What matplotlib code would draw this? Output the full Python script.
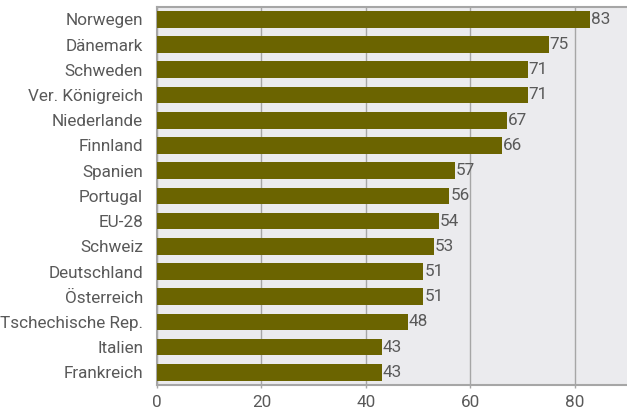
import matplotlib
matplotlib.use("Agg")
import matplotlib.pyplot as plt

countries = ["Norwegen", "Dänemark", "Schweden", "Ver. Königreich", "Niederlande",
             "Finnland", "Spanien", "Portugal", "EU-28", "Schweiz", "Deutschland",
             "Österreich", "Tschechische Rep.", "Italien", "Frankreich"]
values = [83, 75, 71, 71, 67, 66, 57, 56, 54, 53, 51, 51, 48, 43, 43]
xticks = [0, 20, 40, 60, 80]

plt.rcParams['font.family'] = ['Roboto', 'DejaVu Sans']
text_color = '#595959'
grid_color = '#A6A6A6'
fs = 12.3

fig = plt.figure(figsize=(6.27, 4.13), dpi=100)
ax = fig.add_axes([0.2504, 0.0678, 0.7496, 0.916])
ax.set_facecolor('#EBEBEE')

y = list(range(len(countries)))
ax.barh(y, values, height=0.66, color='#6B6400', zorder=3)
for yi, v in zip(y, values):
    ax.text(v + 0.2, yi, str(v), va='center', ha='left', fontsize=fs,
            color=text_color, zorder=4)

ax.set_ylim(len(countries) - 0.5, -0.5)
ax.set_xlim(0, 90)
ax.set_yticks(y)
ax.set_yticklabels(countries, fontsize=fs, color=text_color)
ax.set_xticks(xticks)
ax.set_xticklabels([str(t) for t in xticks], fontsize=fs, color=text_color)

ax.grid(axis='x', color=grid_color, linewidth=1, zorder=1)
ax.tick_params(axis='y', length=0, pad=10)
ax.tick_params(axis='x', length=2.5, color=grid_color, width=1, pad=5)

for s in ['left', 'bottom', 'top']:
    ax.spines[s].set_color(grid_color)
    ax.spines[s].set_linewidth(1.5)
ax.spines['right'].set_visible(False)

fig.savefig('out.png', dpi=100)
